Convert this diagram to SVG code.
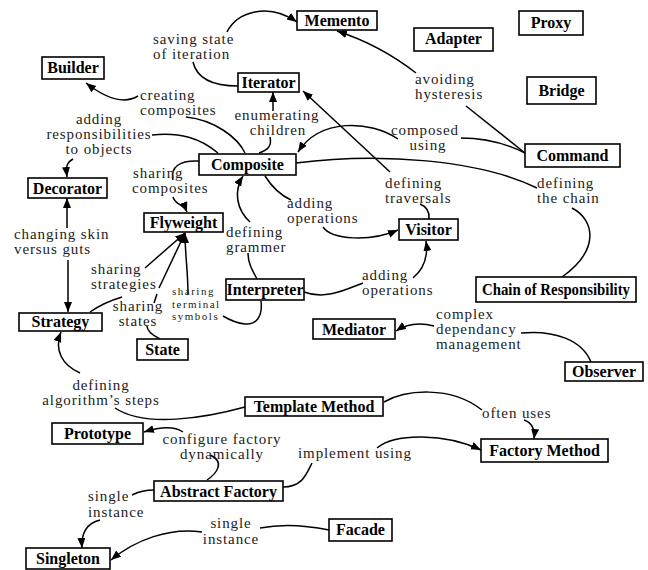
<svg xmlns="http://www.w3.org/2000/svg" width="648" height="570" viewBox="0 0 648 570">
<style>
.n rect{fill:#fff;stroke:#000;stroke-width:1.6}
.n text{font-weight:bold;font-size:16px;text-anchor:middle;fill:#000}
.l{font-size:15px;letter-spacing:0.9px;fill:#222}
.s{font-size:11px;letter-spacing:1.5px}
.m{text-anchor:middle}
#edges path{fill:none;stroke:#000;stroke-width:1.5}
.a{marker-end:url(#ah)}
</style>
<defs>
<marker id="ah" markerUnits="userSpaceOnUse" markerWidth="11" markerHeight="9" refX="10" refY="4" orient="auto">
<path d="M0,0 L10,4 L0,8 z" fill="#000"/>
</marker>
</defs>
<rect width="648" height="570" fill="#fff"/>
<g id="edges">
<path d="M193,62 C196,75 208,86 238,86"/>
<path class="a" d="M227,32 C237,12 268,2 297,22"/>
<path d="M525,153 L466,106"/>
<path class="a" d="M416,73 Q380,45 337,31"/>
<path d="M525,153 C505,143 485,138 461,138"/>
<path class="a" d="M398,139 C370,120 320,118 298,152"/>
<path d="M296,163 C380,152 480,160 537,188"/>
<path d="M572,208 C595,220 600,250 562,277"/>
<path class="a" d="M390,172 L303,91"/>
<path d="M420,204 Q430,208 429,219"/>
<path class="a" d="M273,111 L273,92"/>
<path d="M270,137 C272,146 268,150 259,153"/>
<path d="M245,153 C238,138 215,120 186,117"/>
<path class="a" d="M138,96 C125,104 108,100 86,83"/>
<path d="M218,153 C200,138 180,132 152,135"/>
<path class="a" d="M73,159 C66,163 66,167 67,177"/>
<path d="M199,161 C180,160 170,167 173,180"/>
<path class="a" d="M173,197 C175,205 184,204 187,212"/>
<path d="M257,279 C251,268 248,262 248,253"/>
<path class="a" d="M250,222 C237,210 233,192 243,176"/>
<path d="M265,176 C272,187 280,195 291,200"/>
<path class="a" d="M323,227 C332,240 370,242 398,230"/>
<path d="M304,292 C325,300 345,290 363,283"/>
<path class="a" d="M413,278 C425,268 428,255 426,241"/>
<path d="M261,301 C263,318 255,325 245,324 C235,323 228,319 223,316"/>
<path class="a" d="M188,295 C188,270 185,255 185,233"/>
<path d="M90,312 C100,305 112,300 122,297"/>
<path class="a" d="M145,268 L185,233"/>
<path d="M160,339 C152,335 147,331 147,326"/>
<path d="M154,303 L157,294"/>
<path class="a" d="M159,288 L185,233"/>
<path class="a" d="M67,228 L67,198"/>
<path class="a" d="M68,260 L68,312"/>
<path d="M245,407 C205,418 145,428 115,408"/>
<path class="a" d="M80,373 C62,365 54,350 61,332"/>
<path d="M384,402 C405,390 450,385 482,410"/>
<path class="a" d="M524,420 C533,423 535,430 534,439"/>
<path d="M283,487 C302,487 306,475 312,463"/>
<path class="a" d="M377,448 C395,433 445,433 481,450"/>
<path d="M207,480 C216,474 226,462 210,455"/>
<path class="a" d="M183,432 C174,426 160,427 144,432"/>
<path d="M154,490 C143,490 138,492 132,495"/>
<path class="a" d="M100,520 C88,523 81,532 82,548"/>
<path d="M329,530 C305,525 280,524 260,528"/>
<path class="a" d="M202,532 C170,527 135,540 111,560"/>
<path d="M591,362 C582,340 555,330 521,333"/>
<path class="a" d="M434,326 C418,322 405,325 396,331"/>
</g>
<g id="labels" font-family="Liberation Serif, Times New Roman, serif">
<text class="l" x="153" y="44">saving state</text>
<text class="l" x="153" y="59">of iteration</text>
<text class="l" x="140" y="100">creating</text>
<text class="l" x="140" y="115">composites</text>
<text class="l m" x="99" y="124">adding</text>
<text class="l m" x="99" y="139">responsibilities</text>
<text class="l m" x="99" y="154">to objects</text>
<text class="l m" x="277" y="120">enumerating</text>
<text class="l m" x="278" y="135">children</text>
<text class="l" x="133" y="178">sharing</text>
<text class="l" x="132" y="193">composites</text>
<text class="l m" x="425" y="135">composed</text>
<text class="l m" x="428" y="150">using</text>
<text class="l" x="415" y="84">avoiding</text>
<text class="l" x="415" y="99">hysteresis</text>
<text class="l" x="385" y="188">defining</text>
<text class="l" x="385" y="203">traversals</text>
<text class="l" x="537" y="188">defining</text>
<text class="l" x="537" y="203">the chain</text>
<text class="l" x="287" y="208">adding</text>
<text class="l" x="287" y="223">operations</text>
<text class="l" x="226" y="237">defining</text>
<text class="l" x="226" y="252">grammer</text>
<text class="l" x="14" y="239">changing skin</text>
<text class="l" x="14" y="254">versus guts</text>
<text class="l" x="91" y="274">sharing</text>
<text class="l" x="91" y="289">strategies</text>
<text class="l m" x="138" y="311">sharing</text>
<text class="l m" x="138" y="326">states</text>
<text class="l s" x="172" y="295">sharing</text>
<text class="l s" x="172" y="307.5">terminal</text>
<text class="l s" x="172" y="320">symbols</text>
<text class="l" x="362" y="280">adding</text>
<text class="l" x="362" y="295">operations</text>
<text class="l" x="436" y="319">complex</text>
<text class="l" x="436" y="334">dependancy</text>
<text class="l" x="436" y="349">management</text>
<text class="l m" x="101" y="390">defining</text>
<text class="l m" x="101" y="405">algorithm’s steps</text>
<text class="l m" x="222" y="444">configure factory</text>
<text class="l m" x="222" y="459">dynamically</text>
<text class="l" x="482" y="418">often uses</text>
<text class="l" x="298" y="458">implement using</text>
<text class="l" x="88" y="501">single</text>
<text class="l" x="88" y="517">instance</text>
<text class="l m" x="231" y="528">single</text>
<text class="l m" x="231" y="544">instance</text>
</g>
<g id="nodes" font-family="Liberation Serif, Times New Roman, serif">
<g id="memento" class="n"><rect x="297" y="11" width="80" height="19"/><text x="337" y="26">Memento</text></g>
<g id="adapter" class="n"><rect x="414" y="28" width="79" height="23"/><text x="453.5" y="44">Adapter</text></g>
<g id="proxy" class="n"><rect x="519" y="11" width="64" height="24"/><text x="551" y="28">Proxy</text></g>
<g id="bridge" class="n"><rect x="527" y="77" width="69" height="27"/><text x="561.5" y="96">Bridge</text></g>
<g id="command" class="n"><rect x="525" y="144" width="95" height="23"/><text x="572.5" y="161">Command</text></g>
<g id="builder" class="n"><rect x="42" y="57" width="62" height="22"/><text x="73" y="73">Builder</text></g>
<g id="iterator" class="n"><rect x="238" y="73" width="61" height="19"/><text x="268.5" y="88">Iterator</text></g>
<g id="composite" class="n"><rect x="199" y="154" width="97" height="21"/><text x="247.5" y="170">Composite</text></g>
<g id="decorator" class="n"><rect x="28" y="178" width="79" height="20"/><text x="67.5" y="193.5">Decorator</text></g>
<g id="flyweight" class="n"><rect x="144" y="213" width="79" height="19"/><text x="183.5" y="228">Flyweight</text></g>
<g id="interpreter" class="n"><rect x="226" y="279" width="78" height="21"/><text x="265" y="295">Interpreter</text></g>
<g id="strategy" class="n"><rect x="19" y="313" width="83" height="18"/><text x="60.5" y="327">Strategy</text></g>
<g id="state" class="n"><rect x="137" y="339" width="51" height="21"/><text x="162.5" y="355">State</text></g>
<g id="visitor" class="n"><rect x="399" y="219" width="59" height="21"/><text x="428.5" y="235">Visitor</text></g>
<g id="chain" class="n"><rect x="476" y="277" width="160" height="25"/><text x="556" y="295" textLength="148" lengthAdjust="spacingAndGlyphs">Chain of Responsibility</text></g>
<g id="mediator" class="n"><rect x="313" y="319" width="82" height="20"/><text x="354" y="334.5">Mediator</text></g>
<g id="observer" class="n"><rect x="565" y="362" width="78" height="19"/><text x="604" y="377">Observer</text></g>
<g id="template-method" class="n"><rect x="245" y="397" width="138" height="19"/><text x="314" y="412">Template Method</text></g>
<g id="prototype" class="n"><rect x="52" y="423" width="91" height="21"/><text x="97.5" y="439">Prototype</text></g>
<g id="factory-method" class="n"><rect x="481" y="439" width="127" height="23"/><text x="544.5" y="456">Factory Method</text></g>
<g id="abstract-factory" class="n"><rect x="154" y="481" width="129" height="20"/><text x="218.5" y="496.5">Abstract Factory</text></g>
<g id="facade" class="n"><rect x="329" y="519" width="63" height="22"/><text x="360.5" y="535">Facade</text></g>
<g id="singleton" class="n"><rect x="26" y="548" width="84" height="21"/><text x="68" y="564">Singleton</text></g>
</g>
</svg>
